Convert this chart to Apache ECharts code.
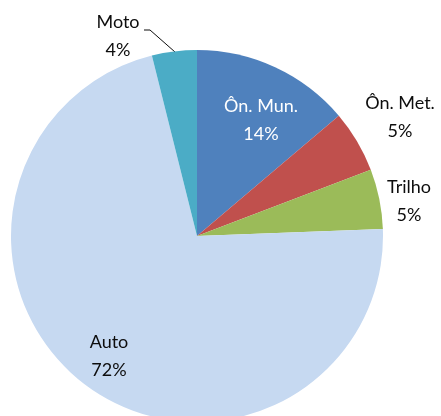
<!DOCTYPE html>
<html>
<head>
<meta charset="utf-8">
<script src="https://cdn.jsdelivr.net/npm/echarts@6/dist/echarts.min.js"></script>
<style>
    html, body { margin: 0; padding: 0; background: #fff; }
    #pieChart { width: 441px; height: 416px; }
</style>
</head>
<body>
<div id="pieChart"></div>
<script>
// 各運輸方式佔比
var modes = ['Ôn. Mun.', 'Ôn. Met.', 'Trilho', 'Auto', 'Moto'];
var shares = [13.8, 5.4, 5.2, 71.7, 3.9];
var colors = ['#4F81BD', '#C0504D', '#9BBB59', '#C6D9F1', '#4BACC6'];

// 標籤位置 (中心點)
var labelPos = [
    [261, 120],
    [400, 117],
    [409, 201],
    [109, 356],
    [118, 36]
];

document.addEventListener("DOMContentLoaded", function() {
    var pieChart = echarts.init(document.getElementById('pieChart'));

    var data = modes.map(function (name, i) {
        return {
            name: name,
            value: shares[i],
            itemStyle: { color: colors[i] },
            label: { color: i === 0 ? '#ffffff' : '#0d0d0d' },
            labelLine: { show: i === 4 }
        };
    });

    var option = {
        animation: false,
        series: [
            {
                type: 'pie',
                center: [197, 236],
                radius: 186,
                startAngle: 90,
                clockwise: true,
                avoidLabelOverlap: false,
                data: data,
                label: {
                    show: true,
                    position: 'outside',
                    fontFamily: 'Lato',
                    fontSize: 18,
                    lineHeight: 28,
                    align: 'center',
                    formatter: function (p) {
                        return p.name + '\n' + Math.round(p.percent) + '%';
                    }
                },
                labelLine: {
                    lineStyle: { color: '#0d0d0d', width: 1 }
                },
                labelLayout: function (params) {
                    var pos = labelPos[params.dataIndex];
                    var res = {
                        x: pos[0],
                        y: pos[1],
                        align: 'center',
                        verticalAlign: 'middle'
                    };
                    if (params.dataIndex === 4) {
                        res.labelLinePoints = [[175, 52], [150, 30], [144, 30]];
                    }
                    return res;
                }
            }
        ]
    };
    pieChart.setOption(option);
});
</script>
</body>
</html>
